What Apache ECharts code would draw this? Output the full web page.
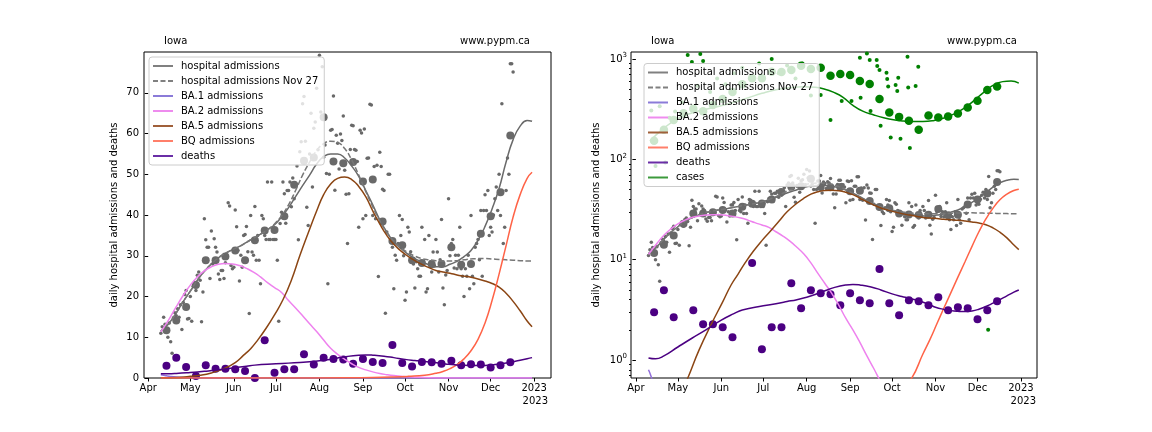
<!DOCTYPE html>
<html><head><meta charset="utf-8">
<script src="https://cdn.jsdelivr.net/npm/echarts@6/dist/echarts.min.js"></script>
<style>html,body{margin:0;padding:0;background:#fff}#c{width:1152px;height:432px}</style>
</head><body><div id="c"></div>
<script>
// day 0 = 2022-04-01
const monthTicks = [0, 30, 61, 91, 122, 153, 183, 214, 244, 275];
const monthLabels = ['Apr', 'May', 'Jun', 'Jul', 'Aug', 'Sep', 'Oct', 'Nov', 'Dec', '2023'];
const linTicks = [0, 10, 20, 30, 40, 50, 60, 70];
const logTicks = [1, 10, 100, 1000];
const logMinorTicks = [0.7, 0.8, 0.9, 2, 3, 4, 5, 6, 7, 8, 9, 20, 30, 40, 50, 60, 70, 80, 90, 200, 300, 400, 500, 600, 700, 800, 900];

const weeklyDays = [13, 20, 27, 34, 41, 48, 55, 62, 69, 76, 83, 90, 97, 104, 111, 118, 125, 132, 139, 146, 153, 160, 167, 174, 181, 188, 195, 202, 209, 216, 223, 230, 237, 244, 251, 258];
const hospWeekly = [11.7, 14.1, 17.4, 22.8, 28.9, 28.9, 29.8, 31.3, 28.9, 33.8, 36.2, 36.3, 39.7, 47.4, 53.3, 54.1, 64.0, 53.1, 52.7, 53.0, 48.2, 48.7, 38.4, 33.6, 32.6, 28.9, 28.2, 27.9, 28.0, 32.1, 27.8, 28.0, 35.4, 39.7, 45.6, 59.5];
const deathsWeekly = [3.0, 4.97, 2.67, 0.5, 3.14, 2.27, 2.27, 2.12, 1.69, 0, 9.26, 1.28, 2.12, 2.12, 5.84, 3.29, 4.97, 4.64, 4.54, 3.52, 4.64, 3.95, 3.69, 8.07, 3.69, 2.80, 3.95, 3.86, 3.52, 4.23, 3.14, 3.36, 3.29, 2.55, 3.14, 3.86];
const casesWeekly = [153, 197, 247, 288, 320, 302, 348, 400, 470, 560, 643, 643, 748, 741, 776, 858, 795, 820, 682, 708, 693, 604, 564, 400, 293, 265, 242, 197, 274, 261, 267, 286, 328, 383, 492, 531];

const hospDaily = [[9,11.0],[10,12.6],[11,14.9],[12,13.2],[13,12.0],[14,10.0],[15,13.5],[16,8.9],[17,6.1],[18,14.8],[19,16.0],[20,15.3],[21,17.0],[22,14.9],[23,18.0],[24,11.9],[25,18.5],[26,20.5],[27,21.5],[28,14.5],[29,14.6],[30,20.0],[31,13.9],[32,22.5],[33,23.5],[34,21.5],[35,25.2],[36,26.0],[37,24.0],[38,13.8],[39,21.1],[40,39.1],[41,33.9],[42,32.1],[43,32.1],[44,24.4],[45,36.1],[46,28.0],[47,34.2],[48,32.1],[49,30.9],[50,25.5],[51,24.2],[52,26.4],[53,26.4],[54,24.4],[55,28.3],[56,29.5],[57,43.0],[58,42.2],[59,27.6],[60,26.8],[61,27.2],[62,41.2],[63,37.1],[64,31.3],[65,23.8],[66,30.1],[67,27.2],[68,35.0],[69,35.2],[70,37.2],[71,31.0],[72,15.8],[73,39.9],[74,30.9],[75,30.1],[76,42.1],[77,28.9],[78,35.0],[79,28.9],[80,23.1],[81,39.9],[82,39.1],[83,35.0],[84,34.0],[85,48.1],[86,34.0],[87,34.0],[88,48.1],[89,34.0],[90,34.0],[91,34.0],[92,28.9],[93,13.9],[94,37.9],[95,40.7],[96,48.1],[97,45.2],[98,38.0],[99,46.0],[100,46.0],[101,48.1],[102,42.0],[103,49.1],[104,44.0],[105,47.0],[106,52.0],[107,33.9],[108,55.5],[109,58.0],[110,67.3],[111,69.1],[112,58.1],[113,41.9],[114,37.4],[115,55.0],[116,65.0],[117,46.9],[118,61.3],[119,62.8],[120,71.1],[121,56.0],[122,79.2],[123,65.3],[124,76.4],[125,54.2],[126,57.2],[127,50.2],[128,23.1],[129,50.0],[130,60.8],[131,61.0],[132,69.2],[133,46.1],[134,59.6],[135,57.6],[136,51.3],[137,59.9],[138,58.3],[139,64.3],[140,51.0],[141,45.1],[142,33.0],[143,45.2],[144,56.1],[145,62.0],[146,61.9],[147,56.1],[148,55.9],[149,53.1],[150,37.0],[151,60.8],[152,60.1],[153,39.1],[154,61.1],[155,39.9],[156,53.9],[157,54.0],[158,67.2],[159,67.0],[160,39.9],[161,51.9],[162,39.1],[163,52.2],[164,24.9],[165,55.4],[166,51.9],[167,46.3],[168,46.0],[169,15.9],[170,35.8],[171,50.0],[172,50.0],[173,34.0],[174,32.1],[175,21.9],[176,30.1],[177,28.9],[178,33.0],[179,39.9],[180,35.0],[181,38.9],[182,30.0],[183,19.1],[184,21.1],[185,37.0],[186,35.8],[187,31.0],[188,29.0],[189,28.0],[190,22.1],[191,28.5],[192,26.8],[193,25.0],[194,25.0],[195,37.0],[196,28.0],[197,34.0],[198,21.1],[199,21.9],[200,35.0],[201,28.5],[202,26.0],[203,30.9],[204,27.5],[205,34.0],[206,30.9],[207,26.0],[208,29.0],[209,38.9],[210,22.1],[211,18.0],[212,25.3],[213,26.4],[214,44.0],[215,30.0],[216,33.0],[217,34.0],[218,27.0],[219,30.1],[220,26.8],[221,30.1],[222,37.0],[223,26.8],[224,25.0],[225,20.0],[226,26.8],[227,25.0],[228,30.1],[229,21.9],[230,39.9],[231,25.0],[232,23.1],[233,32.1],[234,33.0],[235,34.0],[236,29.0],[237,41.1],[238,25.0],[239,41.1],[240,45.0],[241,41.1],[242,46.0],[243,35.0],[244,37.0],[245,35.8],[246,40.0],[247,44.0],[248,46.9],[249,41.1],[250,50.0],[251,39.9],[252,67.3],[253,33.0],[254,37.0],[255,46.0],[256,54.0],[257,50.0],[258,77.1],[259,77.1],[260,75.1]];

const casesDaily = [[11,307],[14,86],[17,339],[21,93],[24,260],[28,300],[33,370],[37,1094],[40,933],[44,540],[46,1120],[48,954],[53,470],[58,640],[64,560],[70,720],[76,820],[82,650],[88,900],[97,1000],[102,720],[108,860],[114,640],[119,900],[125,432],[132,438],[139,247],[147,382],[154,382],[160,1030],[160.5,412],[165,1137],[167,977],[167.6,304],[172,977],[172.4,851],[174,777],[174.8,216],[179,731],[179.5,632],[180.2,531],[182,165],[185.5,552],[186.7,481],[187.4,652],[189,160],[194,1054],[194.5,519],[195.7,130],[199.8,538],[201.7,838],[251.6,2]];

const hospLine = [[9,11.5],[15,13.5],[20,16],[25,18.8],[30,21.3],[35,24],[40,26.2],[45,28],[50,29.5],[55,30.6],[60,31.5],[65,32.3],[70,33.3],[75,34.3],[80,35.3],[85,36.4],[90,37.6],[95,39.5],[100,41.8],[105,44.5],[110,47.2],[115,49.8],[120,52.5],[125,54.3],[130,55],[135,55],[140,54],[145,52],[150,49.5],[155,46],[160,42.5],[165,38.8],[170,35.8],[175,33.4],[180,31.8],[185,30.4],[190,29.3],[195,28.5],[200,27.8],[205,27.3],[210,27.3],[215,27.9],[220,28.6],[225,29.8],[230,31.3],[235,33.8],[240,37.2],[245,41.5],[250,46.5],[255,53],[260,58.5],[265,61.8],[270,63.2],[273.5,63]];
const hospNov27Line = [[9,11.5],[15,13.5],[20,16],[25,18.8],[30,21.3],[35,24],[40,26.2],[45,28],[50,29.5],[55,30.6],[60,31.5],[65,32.3],[70,33.3],[75,34.3],[80,35.3],[85,36.4],[90,37.8],[95,39.8],[100,42.5],[105,46],[110,49.8],[115,53],[120,55.8],[125,57.5],[130,58.1],[135,57.8],[140,56.3],[145,53.5],[150,49.8],[155,45.8],[160,42],[165,38.6],[170,35.8],[175,33.6],[180,32],[185,30.8],[190,29.9],[195,29.3],[200,29],[205,28.8],[210,28.7],[215,28.7],[220,28.8],[225,29],[230,29.2],[235,29.3],[240,29.3],[245,29.2],[250,29.1],[255,29],[260,28.9],[265,28.8],[270,28.7],[273.5,28.7]];
const ba1Line = [[9,0.8],[11,0.68],[13,0.55],[16,0.4],[20,0.26],[25,0.15],[30,0.08],[40,0.025],[50,0.008],[70,0.001],[100,0.0001],[150,0.00001],[200,0.000001],[273.5,0.0000001]];
const ba2Line = [[9,11.3],[15,14.5],[20,17.5],[25,20.3],[30,22.8],[35,24.8],[40,26.3],[45,27.3],[50,27.9],[55,28.1],[60,28],[65,27.6],[70,26.9],[75,26],[80,24.8],[85,23.4],[90,22.2],[95,21],[100,19],[105,17.2],[110,15.3],[115,13.3],[120,11.4],[125,9.3],[130,7.3],[135,5.8],[140,4.6],[145,3.5],[150,2.6],[155,2.0],[160,1.5],[165,1.1],[170,0.82],[175,0.6],[180,0.45],[185,0.3],[190,0.2],[200,0.08],[215,0.02],[230,0.005],[250,0.001],[273.5,0.0002]];
const ba5Line = [[9,0.05],[20,0.15],[30,0.4],[37,0.66],[45,1.25],[54,2.3],[62,3.8],[68,5.6],[73,7.2],[78,9.3],[84,12.2],[90,15.5],[96,19.2],[102,24],[108,30],[115,36.5],[120,41],[125,45],[130,47.6],[135,49],[140,49.3],[145,48.7],[150,47],[155,44.5],[160,41],[165,37.8],[170,35],[175,32.8],[180,31.2],[185,29.9],[190,28.8],[195,27.9],[200,27.1],[205,26.4],[210,26],[215,25.7],[220,25.3],[225,25],[230,24.7],[235,24.3],[240,23.8],[245,23.2],[250,22.3],[255,20.8],[260,18.8],[265,16.5],[270,14],[273.5,12.6]];
const bqLine = [[9,0.0005],[50,0.002],[100,0.01],[140,0.05],[160,0.12],[175,0.25],[185,0.4],[197,0.66],[205,1.15],[210,1.6],[215,2.3],[220,3.3],[225,4.7],[230,6.7],[235,9.5],[240,13.5],[245,19],[250,25.5],[255,32.5],[260,39.5],[265,45],[270,49],[273.5,50.5]];
const deathsLine = [[9,1.05],[14,1.03],[20,1.1],[30,1.35],[40,1.65],[50,2.0],[61,2.5],[70,2.9],[76,3.16],[91,3.47],[100,3.65],[108,3.83],[115,4.0],[122,4.23],[130,4.6],[135,4.9],[142,5.3],[150,5.6],[155,5.67],[160,5.6],[168,5.35],[175,5.0],[183,4.57],[190,4.3],[195,4.14],[203,3.85],[210,3.55],[214,3.36],[220,3.2],[225,3.11],[230,3.06],[235,3.04],[240,3.08],[245,3.21],[250,3.42],[255,3.69],[260,4.0],[265,4.37],[270,4.75],[273.5,5.0]];
const casesLine = [[10,152],[20,205],[30,255],[40,290],[50,315],[60,340],[70,370],[80,410],[90,455],[100,495],[110,518],[120,528],[128,522],[135,500],[141,467],[148,415],[155,345],[162,302],[170,277],[177,260],[184,248],[191,241],[198,238],[205,238],[213,244],[220,258],[227,282],[234,320],[241,380],[248,460],[255,545],[262,595],[268,602],[273.5,575]];

const FONT = 'DejaVu Sans';
const C = {
  hosp: '#6a6a6a', ba1: '#9370DB', ba2: '#EE82EE', ba5: '#8B4513', bq: '#FF6347', deaths: '#4B0082', cases: '#008000'
};
const LEG = {
  'hospital admissions': '#808080', 'hospital admissions Nov 27': '#808080', 'BA.1 admissions': '#8b7bd8',
  'BA.2 admissions': '#ee8cee', 'BA.5 admissions': '#a0603a', 'BQ admissions': '#ff7f6a', 'deaths': '#6a2ea6', 'cases': '#3c9a3c'
};
const SOLID = 'path://M0,0h20v2h-20z';
const DASHED = 'path://M0,0h5v2h-5z M7.5,0h5v2h-5z M15,0h5v2h-5z';

function legendData(withCases) {
  const names = ['hospital admissions', 'hospital admissions Nov 27', 'BA.1 admissions', 'BA.2 admissions', 'BA.5 admissions', 'BQ admissions', 'deaths'];
  if (withCases) names.push('cases');
  return names.map(n => ({ name: n, icon: n.indexOf('Nov 27') >= 0 ? DASHED : SOLID, itemStyle: { color: LEG[n] } }));
}

const zip = (days, vals) => days.map((d, i) => [d, vals[i]]);
const pos = arr => arr.filter(p => p[1] > 0);

function xAxisCfg(grid, min, max) {
  return {
    gridIndex: grid, type: 'value', min: min, max: max,
    axisLine: { show: false }, splitLine: { show: false },
    axisTick: { show: true, customValues: monthTicks, length: 3.5, lineStyle: { color: '#000', width: 1 } },
    axisLabel: { customValues: monthTicks, color: '#000', fontSize: 10, fontFamily: FONT, margin: 5,
      formatter: v => monthLabels[monthTicks.indexOf(v)] }
  };
}

function lineSeries(name, data, color, xi, yi, dashed) {
  return {
    name: name, type: 'line', xAxisIndex: xi, yAxisIndex: yi, data: data, smooth: 0.5,
    showSymbol: false, symbol: 'none', clip: true, z: 3, silent: true,
    lineStyle: { color: color, width: 1.5, type: dashed ? [5.5, 2.4] : 'solid' },
    itemStyle: { color: color }
  };
}
function scatterSeries(name, data, color, size, xi, yi) {
  return {
    name: name, type: 'scatter', xAxisIndex: xi, yAxisIndex: yi, data: data, symbolSize: size,
    itemStyle: { color: color, opacity: 1 }, clip: true, z: 2, silent: true
  };
}

function panelSeries(xi, yi, isLog) {
  const f = isLog ? pos : (a => a);
  const s = [
    scatterSeries('_hospDaily', f(hospDaily), '#696969', 3.5, xi, yi),
    scatterSeries('_hospWeekly', f(zip(weeklyDays, hospWeekly)), '#696969', 8, xi, yi),
    scatterSeries('_deathsWeekly', f(zip(weeklyDays, deathsWeekly)), C.deaths, 8, xi, yi)
  ];
  if (isLog) {
    s.push(scatterSeries('_casesDaily', casesDaily, C.cases, 4, xi, yi));
    s.push(scatterSeries('_casesWeekly', zip(weeklyDays, casesWeekly), C.cases, 8.5, xi, yi));
  }
  s.push(lineSeries('hospital admissions', hospLine, C.hosp, xi, yi));
  s.push(lineSeries('hospital admissions Nov 27', hospNov27Line, '#777777', xi, yi, true));
  s.push(lineSeries('BA.1 admissions', ba1Line, C.ba1, xi, yi));
  s.push(lineSeries('BA.2 admissions', ba2Line, C.ba2, xi, yi));
  s.push(lineSeries('BA.5 admissions', ba5Line, C.ba5, xi, yi));
  s.push(lineSeries('BQ admissions', bqLine, C.bq, xi, yi));
  s.push(lineSeries('deaths', deathsLine, C.deaths, xi, yi));
  if (isLog) s.push(lineSeries('cases', casesLine, C.cases, xi, yi));
  return s;
}

function legendCfg(left, top, withCases) {
  return {
    left: left, top: top, orient: 'vertical', itemWidth: 20, itemHeight: 2, itemGap: 3,
    symbolKeepAspect: false, selectedMode: false,
    backgroundColor: 'rgba(255,255,255,0.8)', borderColor: '#cccccc', borderWidth: 1, borderRadius: 3,
    padding: [3, 6, 3, 4], z: 10,
    textStyle: { fontSize: 10, fontFamily: FONT, color: '#000', lineHeight: 12, padding: [0, 0, 0, 3] },
    data: legendData(withCases)
  };
}

const yName = 'daily hospital admissions and deaths';
const option = {
  animation: false,
  backgroundColor: '#fff',
  textStyle: { fontFamily: FONT },
  grid: [
    { left: 144, top: 52, width: 407, height: 326, show: true, borderColor: '#000', borderWidth: 1, backgroundColor: 'transparent' },
    { left: 631, top: 52, width: 406, height: 326, show: true, borderColor: '#000', borderWidth: 1, backgroundColor: 'transparent' }
  ],
  xAxis: [xAxisCfg(0, -3, 287), xAxisCfg(1, -3.5, 286.5)],
  yAxis: [
    {
      gridIndex: 0, type: 'value', min: 0, max: 80, position: 'left',
      axisLine: { show: false }, splitLine: { show: false },
      axisTick: { show: true, customValues: linTicks, length: 3.5, lineStyle: { color: '#000' } },
      axisLabel: { customValues: linTicks, color: '#000', fontSize: 10, fontFamily: FONT, margin: 5 },
      name: yName, nameLocation: 'middle', nameGap: 25, nameRotate: 90,
      nameTextStyle: { fontSize: 10, fontFamily: FONT, color: '#000' }
    },
    {
      gridIndex: 1, type: 'log', logBase: 10, min: 0.663, max: 1174, position: 'left',
      axisLine: { show: false }, splitLine: { show: false }, minorTick: { show: false },
      axisTick: { show: true, customValues: logTicks, length: 3.5, lineStyle: { color: '#000' } },
      axisLabel: { customValues: logTicks, color: '#000', fontSize: 10, fontFamily: FONT, margin: 4,
        formatter: v => '10{s|' + Math.round(Math.log10(v)) + '}',
        rich: { s: { fontSize: 7, fontFamily: FONT, color: '#000', padding: [0, 0, 7, 0] } } },
      name: yName, nameLocation: 'middle', nameGap: 30, nameRotate: 90,
      nameTextStyle: { fontSize: 10, fontFamily: FONT, color: '#000' }
    },
    {
      gridIndex: 1, type: 'log', logBase: 10, min: 0.663, max: 1174, position: 'left', offset: 0,
      axisLine: { show: false, onZero: false }, splitLine: { show: false }, axisLabel: { show: false },
      axisTick: { show: true, customValues: logMinorTicks, length: 2, lineStyle: { color: '#000' } }
    }
  ],
  legend: [legendCfg(149, 57, false), legendCfg(644, 63.5, true)],
  graphic: [
    { type: 'text', left: 164, top: 36, style: { text: 'Iowa', font: '10px "DejaVu Sans"', fill: '#000' } },
    { type: 'text', left: 460, top: 36, style: { text: 'www.pypm.ca', font: '10px "DejaVu Sans"', fill: '#000' } },
    { type: 'text', left: 651, top: 36, style: { text: 'Iowa', font: '10px "DejaVu Sans"', fill: '#000' } },
    { type: 'text', left: 947, top: 36, style: { text: 'www.pypm.ca', font: '10px "DejaVu Sans"', fill: '#000' } },
    { type: 'text', right: 604, top: 396, style: { text: '2023', font: '10px "DejaVu Sans"', fill: '#000' } },
    { type: 'text', right: 116, top: 396, style: { text: '2023', font: '10px "DejaVu Sans"', fill: '#000' } }
  ],
  series: panelSeries(0, 0, false).concat(panelSeries(1, 1, true))
};

const chart = echarts.init(document.getElementById('c'), null, { renderer: 'canvas' });
chart.setOption(option);
</script>
</body></html>
